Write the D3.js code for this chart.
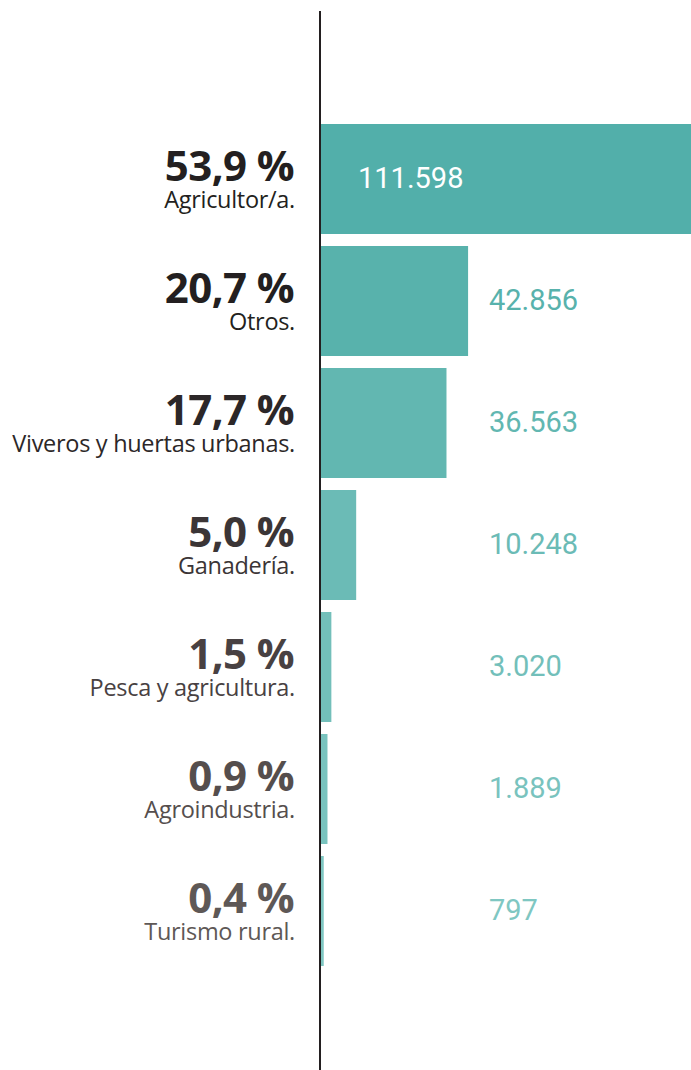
<!DOCTYPE html>
<html>
<head>
<meta charset="utf-8">
<script src="https://cdn.jsdelivr.net/npm/d3@7"></script>
<style>
  body { margin: 0; background: #fff; }
  svg { display: block; }
</style>
</head>
<body>
<div id="chart"></div>
<script>
// data
var categories = ["Agricultor/a.", "Otros.", "Viveros y huertas urbanas.", "Ganadería.",
                  "Pesca y agricultura.", "Agroindustria.", "Turismo rural."];
var percents = ["53,9 %", "20,7 %", "17,7 %", "5,0 %", "1,5 %", "0,9 %", "0,4 %"];
var counts = [111598, 42856, 36563, 10248, 3020, 1889, 797];

// colours go from dark to light down the list
var barColors = ["#52afaa", "#58b2ac", "#62b7b1", "#6bbbb6", "#73bfba", "#79c3be", "#7fc7c2"];
var textColors = ["#231f20", "#231f20", "#2c2728", "#3b3536", "#484142", "#554e4d", "#5e5856"];

var w = 691, h = 1070;
var axisX = 320;

var svg = d3.select("#chart")
  .append("svg")
  .attr("width", w)
  .attr("height", h);

// rows: 110px bars, 12px gaps
var yScale = d3.scaleBand()
  .domain(categories)
  .range([124, 124 + 122 * categories.length - 12])
  .paddingInner(12 / 122)
  .paddingOuter(0);

var xScale = d3.scaleLinear()
  .domain([0, 111598])
  .range([axisX + 1, axisX + 1 + 383]);

// number format with "." as thousands separator
var fmt = d3.formatLocale({ decimal: ",", thousands: ".", grouping: [3], currency: ["", ""] }).format(",d");

var rows = svg.selectAll("g.row")
  .data(categories)
  .enter()
  .append("g")
  .attr("class", "row");

rows.append("rect")
  .attr("x", xScale(0))
  .attr("y", d => yScale(d))
  .attr("width", (d, i) => xScale(counts[i]) - xScale(0))
  .attr("height", yScale.bandwidth())
  .attr("fill", (d, i) => barColors[i]);

// percent labels
rows.append("text")
  .attr("x", 294)
  .attr("y", d => yScale(d) + 57)
  .attr("text-anchor", "end")
  .attr("font-family", "'Open Sans', sans-serif")
  .attr("font-weight", 700)
  .attr("font-size", 42)
  .attr("letter-spacing", -0.6)
  .attr("fill", (d, i) => textColors[i])
  .text((d, i) => percents[i]);

// category labels
rows.append("text")
  .attr("x", 295)
  .attr("y", d => yScale(d) + 84)
  .attr("text-anchor", "end")
  .attr("font-family", "'Open Sans', sans-serif")
  .attr("font-size", 23.5)
  .attr("letter-spacing", -0.3)
  .attr("fill", (d, i) => textColors[i])
  .text(d => d);

// value labels, inside the bar when it is wide enough
rows.append("text")
  .attr("x", (d, i) => xScale(counts[i]) > 600 ? xScale(0) + 37 : 489)
  .attr("y", d => yScale(d) + 64)
  .attr("font-family", "Roboto, sans-serif")
  .attr("font-size", 29)
  .attr("fill", (d, i) => xScale(counts[i]) > 600 ? "#ffffff" : barColors[i])
  .text((d, i) => fmt(counts[i]));

// vertical axis line
svg.append("line")
  .attr("x1", axisX)
  .attr("x2", axisX)
  .attr("y1", 11)
  .attr("y2", h)
  .attr("stroke", "#231f20")
  .attr("stroke-width", 2);
</script>
</body>
</html>
